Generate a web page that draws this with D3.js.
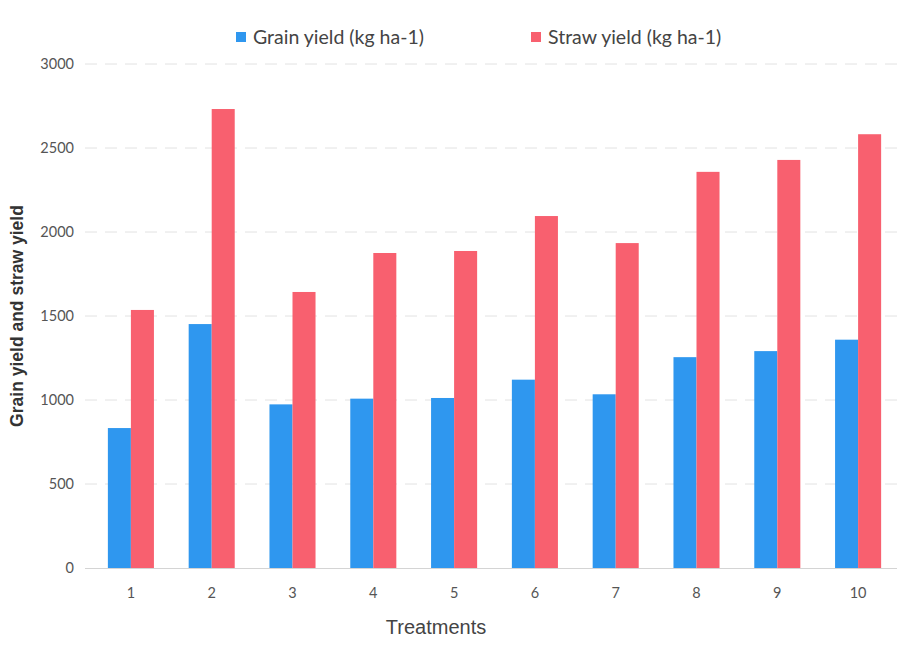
<!DOCTYPE html>
<html><head><meta charset="utf-8">
<script src="https://cdn.jsdelivr.net/npm/d3@7"></script>
<style>body{margin:0;background:#fff}svg{display:block}</style>
</head><body>
<svg id="c" width="904" height="645"></svg>
<script>
const categories = ["1","2","3","4","5","6","7","8","9","10"];
const grainYield = [833, 1452, 974, 1008, 1012, 1121, 1034, 1255, 1291, 1359];
const strawYield = [1536, 2732, 1643, 1875, 1887, 2095, 1934, 2358, 2429, 2582];
const seriesNames = ["Grain yield (kg ha-1)", "Straw yield (kg ha-1)"];
const yTicks = [0, 500, 1000, 1500, 2000, 2500, 3000];
const colors = ["#2f97ef", "#f8606f"];

const svg = d3.select("#c");
const font = "Lato, 'Open Sans', sans-serif";
const x = d3.scaleBand().domain(categories).range([90.5, 898.5]).paddingInner(0).paddingOuter(0);
const y = d3.scaleLinear().domain([0, 3000]).range([568, 64]);
const sub = d3.scaleBand().domain([0,1]).range([x.bandwidth()*0.215, x.bandwidth()*0.785]);

// gridlines
svg.append("g").selectAll("line").data(yTicks.filter(d=>d>0)).join("line")
  .attr("x1", 85).attr("x2", 897).attr("y1", d=>y(d)).attr("y2", d=>y(d))
  .attr("stroke", "#e2e2e2").attr("stroke-width", 1).attr("stroke-dasharray", "12,8");

// y tick labels
const yAxis = d3.axisLeft(y).tickValues(yTicks).tickFormat(d3.format("d")).tickSize(0).tickPadding(0);
const ga = svg.append("g").attr("transform", "translate(74,0)").call(yAxis);
ga.select(".domain").remove();
ga.selectAll("text").attr("font-family", font).attr("font-size", 14.5).attr("fill", "#555");

// bars
const data = categories.map((c,i)=>({c, v:[grainYield[i], strawYield[i]]}));
const grp = svg.append("g").selectAll("g").data(data).join("g")
  .attr("transform", d=>`translate(${x(d.c)},0)`);
grp.selectAll("rect").data(d=>d.v.map((v,k)=>({v,k}))).join("rect")
  .attr("x", d=>sub(d.k)).attr("width", sub.bandwidth())
  .attr("y", d=>y(d.v)).attr("height", d=>y(0)-y(d.v))
  .attr("fill", d=>colors[d.k]);

// baseline
svg.append("line").attr("x1", 85).attr("x2", 897).attr("y1", y(0)+0.5).attr("y2", y(0)+0.5)
  .attr("stroke", "#d4d4d4").attr("stroke-width", 1);

// x axis labels
const xAxis = d3.axisBottom(x).tickSize(0).tickPadding(0);
const gx = svg.append("g").attr("transform", "translate(0,588)").call(xAxis);
gx.select(".domain").remove();
gx.selectAll("text").attr("font-family", font).attr("font-size", 14.5).attr("fill", "#555");

// axis titles
svg.append("text").attr("x", 436).attr("y", 634).attr("text-anchor", "middle")
  .attr("font-family", "'Liberation Sans', Arial, sans-serif").attr("font-size", 20).attr("fill", "#444").text("Treatments");
svg.append("text").attr("transform", "translate(23,316) rotate(-90)").attr("text-anchor", "middle")
  .attr("font-family", "'Liberation Sans', Arial, sans-serif").attr("font-weight", "bold")
  .attr("font-size", 17.5).attr("fill", "#333").text("Grain yield and straw yield");

// legend
const legX = [236, 531];
const lg = svg.append("g").selectAll("g").data(seriesNames).join("g")
  .attr("transform", (d,i)=>`translate(${legX[i]},32)`);
lg.append("rect").attr("width", 10).attr("height", 10).attr("fill", (d,i)=>colors[i]);
lg.append("text").attr("x", 17).attr("y", 11.5).attr("font-family", font).attr("font-size", 19.5)
  .attr("fill", "#444").text(d=>d);
</script>
</body></html>
